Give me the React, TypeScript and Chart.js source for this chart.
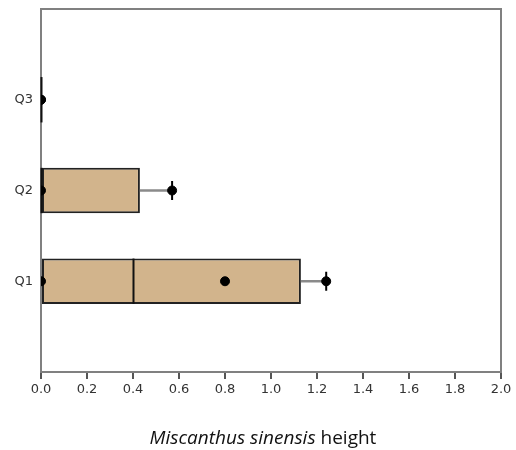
import React, { useEffect, useRef } from "react";
import { Chart, registerables } from "chart.js";

Chart.register(...registerables);

// Box-plot summary per quarter (bottom to top on the chart)
const categories = ["Q1", "Q2", "Q3"];
const minValues = [0, 0, 0];
const lowerQuartile = [0, 0, 0];
const medianValues = [0.4, 0, 0];
const upperQuartile = [1.13, 0.43, 0];
const maxValues = [1.24, 0.57, 0];
const meanValues: (number | null)[] = [0.8, null, null];

const xTicks = [0, 0.2, 0.4, 0.6, 0.8, 1.0, 1.2, 1.4, 1.6, 1.8, 2.0];

const BOX_FILL = "#d2b48c";
const BOX_EDGE = "#222222";
const WHISKER = "#8a8a8a";
const FRAME = "#808080";

const tickFont = { family: "'DejaVu Sans', sans-serif", size: 13 };

// Plot frame sits underneath the boxes so zero-width boxes stay visible
const plotFrame = {
  id: "plotFrame",
  beforeDatasetsDraw(chart: any) {
    const { ctx, chartArea } = chart;
    ctx.save();
    ctx.strokeStyle = FRAME;
    ctx.lineWidth = 2;
    ctx.strokeRect(
      chartArea.left,
      chartArea.top,
      chartArea.right - chartArea.left,
      chartArea.bottom - chartArea.top
    );
    ctx.restore();
  },
};

const boxExtras = {
  id: "boxExtras",
  afterDatasetDraw(chart: any, args: any) {
    if (args.index !== 0) return;
    const { ctx, scales } = chart;
    const xs = scales.x;
    const ys = scales.y;
    const meta = chart.getDatasetMeta(0);
    ctx.save();
    categories.forEach((_, i) => {
      const yc = ys.getPixelForValue(i + 1);
      const bar = meta.data[i];
      const half = bar ? bar.height / 2 : 22;
      // whisker from upper quartile to max
      if (maxValues[i] > upperQuartile[i]) {
        ctx.strokeStyle = WHISKER;
        ctx.lineWidth = 2.5;
        ctx.beginPath();
        ctx.moveTo(xs.getPixelForValue(upperQuartile[i]), yc);
        ctx.lineTo(xs.getPixelForValue(maxValues[i]), yc);
        ctx.stroke();
        // cap
        ctx.strokeStyle = "#000";
        ctx.lineWidth = 2;
        ctx.beginPath();
        const xm = xs.getPixelForValue(maxValues[i]);
        ctx.moveTo(xm, yc - 9.5);
        ctx.lineTo(xm, yc + 9.5);
        ctx.stroke();
      }
      if (minValues[i] < lowerQuartile[i]) {
        ctx.strokeStyle = WHISKER;
        ctx.lineWidth = 2.5;
        ctx.beginPath();
        ctx.moveTo(xs.getPixelForValue(minValues[i]), yc);
        ctx.lineTo(xs.getPixelForValue(lowerQuartile[i]), yc);
        ctx.stroke();
      }
      // median
      ctx.strokeStyle = "#111";
      ctx.lineWidth = 2;
      ctx.beginPath();
      const xmed = xs.getPixelForValue(medianValues[i]);
      ctx.moveTo(xmed + 0.5, yc - half);
      ctx.lineTo(xmed + 0.5, yc + half);
      ctx.stroke();
    });
    ctx.restore();
  },
};

const axisTitle = {
  id: "axisTitle",
  afterDraw(chart: any) {
    const { ctx } = chart;
    // species name in italics, followed by the measured trait
    const italic = "Miscanthus sinensis";
    const plain = " height";
    const fam = "'Open Sans', sans-serif";
    ctx.save();
    ctx.textBaseline = "alphabetic";
    ctx.textAlign = "left";
    ctx.fillStyle = "#111";
    ctx.font = `italic 19px ${fam}`;
    const w1 = ctx.measureText(italic).width;
    ctx.font = `19px ${fam}`;
    const w2 = ctx.measureText(plain).width;
    const cx = 263;
    const y = 444;
    const x0 = cx - (w1 + w2) / 2;
    ctx.font = `italic 19px ${fam}`;
    ctx.fillText(italic, x0, y);
    ctx.font = `19px ${fam}`;
    ctx.fillText(plain, x0 + w1, y);
    ctx.restore();
  },
};

function pointsFrom(values: (number | null)[]) {
  const out: { x: number; y: number }[] = [];
  values.forEach((v, i) => {
    if (v !== null) out.push({ x: v, y: i + 1 });
  });
  return out;
}

export default function App() {
  const ref = useRef<HTMLCanvasElement>(null);

  useEffect(() => {
    if (!ref.current) return;
    const dotStyle = {
      backgroundColor: "#000",
      borderColor: "#000",
      pointRadius: 4.5,
      pointHoverRadius: 4.5,
      showLine: false,
      clip: 0,
      order: 0,
    };
    const chart = new Chart(ref.current, {
      type: "bar",
      data: {
        datasets: [
          {
            type: "bar",
            label: "box",
            data: categories.map((_, i) => ({
              x: [lowerQuartile[i], upperQuartile[i]],
              y: i + 1,
            })) as any,
            backgroundColor: BOX_FILL,
            borderColor: BOX_EDGE,
            borderWidth: 2,
            borderSkipped: false,
            categoryPercentage: 1,
            barPercentage: 0.5,
            order: 1,
          },
          { type: "scatter", label: "min", data: pointsFrom(minValues), ...dotStyle } as any,
          { type: "scatter", label: "mean", data: pointsFrom(meanValues), ...dotStyle } as any,
          { type: "scatter", label: "max", data: pointsFrom(maxValues), ...dotStyle } as any,
        ],
      },
      options: {
        indexAxis: "y",
        responsive: false,
        animation: false,
        layout: { padding: { left: 0, top: 9, right: 15, bottom: 48 } },
        plugins: {
          legend: { display: false },
          tooltip: { enabled: false },
        },
        scales: {
          x: {
            type: "linear",
            min: 0,
            max: 2,
            offset: false,
            afterBuildTicks: (s: any) => {
              s.ticks = xTicks.map((v) => ({ value: v }));
            },
            afterFit: (s: any) => {
              s.height = 30;
              s.paddingLeft = 0;
              s.paddingRight = 0;
            },
            ticks: {
              font: tickFont,
              color: "#333",
              padding: 3,
              maxRotation: 0,
              callback: (v: any) => Number(v).toFixed(1),
            },
            grid: {
              drawOnChartArea: false,
              drawTicks: true,
              tickLength: 7,
              color: "#555",
              lineWidth: 2,
              offset: false,
            },
            border: { display: false },
          },
          y: {
            type: "linear",
            min: 0,
            max: 4,
            offset: false,
            afterBuildTicks: (s: any) => {
              s.ticks = categories.map((_, i) => ({ value: i + 1 }));
            },
            afterFit: (s: any) => {
              s.width = 41;
              s.paddingTop = 0;
              s.paddingBottom = 0;
            },
            ticks: {
              font: tickFont,
              color: "#333",
              padding: 8,
              callback: (v: any) => categories[Number(v) - 1] ?? "",
            },
            grid: { display: false, drawTicks: false, offset: false },
            border: { display: false },
          },
        },
      },
      plugins: [plotFrame, boxExtras, axisTitle],
    });
    return () => chart.destroy();
  }, []);

  return (
    <div style={{ position: "absolute", left: 0, top: 0, width: 516, height: 450, background: "#fff" }}>
      <canvas ref={ref} width={516} height={450} style={{ width: 516, height: 450 }} />
    </div>
  );
}
